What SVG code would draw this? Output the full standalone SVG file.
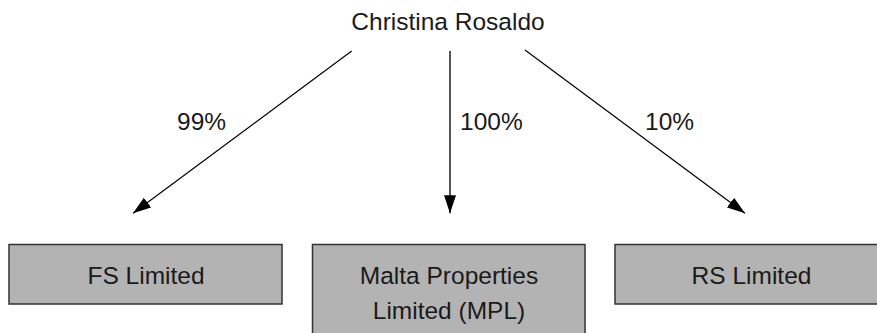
<svg xmlns="http://www.w3.org/2000/svg" width="877" height="333" viewBox="0 0 877 333">
<style>
text{font-family:"Liberation Sans",Arial,sans-serif;font-size:24.5px;fill:#1a1a1a}
.box{fill:#b3b3b3;stroke:#333;stroke-width:1.5}
.c{text-anchor:middle}
.ln{stroke:#000;stroke-width:1.2;fill:none}
.lv{stroke:#444;stroke-width:1.8;fill:none}
</style>
<defs>
<marker id="ah" markerUnits="userSpaceOnUse" markerWidth="18" markerHeight="12" refX="18" refY="6" orient="auto" viewBox="0 0 18 12">
<path d="M0,0 L18,6 L0,12 z" fill="#000"/>
</marker>
</defs>
<rect width="877" height="333" fill="#fff"/>
<g id="christina">
<text class="c" x="448" y="30">Christina Rosaldo</text>
</g>
<g id="connectors">
<line class="ln" x1="351.7" y1="51" x2="133" y2="213.3" marker-end="url(#ah)"/>
<line class="lv" x1="450" y1="51" x2="450" y2="213.3" marker-end="url(#ah)"/>
<line class="ln" x1="525" y1="50" x2="745" y2="213.3" marker-end="url(#ah)"/>
<text x="177" y="129.5">99%</text>
<text x="460" y="129.5">100%</text>
<text x="645" y="129.5">10%</text>
</g>
<g id="fs">
<rect class="box" x="9" y="244.5" width="273" height="59.5"/>
<text class="c" x="146" y="284">FS Limited</text>
</g>
<g id="mpl">
<rect class="box" x="312.5" y="244.5" width="272.5" height="100"/>
<text class="c" x="449" y="284">Malta Properties</text>
<text class="c" x="449" y="319">Limited (MPL)</text>
</g>
<g id="rs">
<rect class="box" x="615" y="244.5" width="273" height="59.5"/>
<text class="c" x="751.5" y="284">RS Limited</text>
</g>
</svg>
